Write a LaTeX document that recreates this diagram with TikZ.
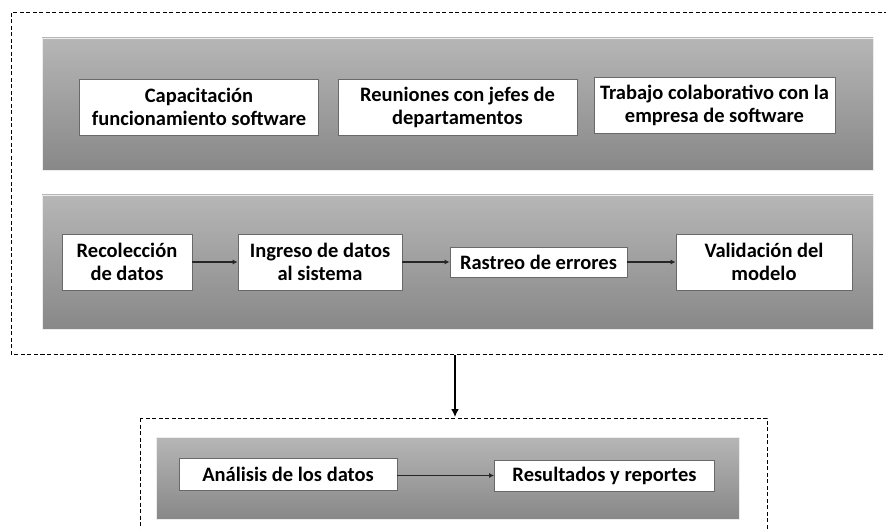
\documentclass[tikz,border=0pt]{standalone}
\usepackage{fontspec}
\setmainfont{Carlito}
\usetikzlibrary{arrows.meta}
\definecolor{pantop}{RGB}{182,182,182}
\definecolor{panbot}{RGB}{136,136,136}
\definecolor{boxedge}{RGB}{105,105,105}
\tikzset{
  panel/.style={draw=white!85!gray, line width=0.6pt, top color=pantop, bottom color=panbot},
  wbox/.style={draw=boxedge, line width=0.8pt, fill=white, align=center, font=\bfseries\fontsize{20.5}{23}\selectfont, inner sep=0pt},
  dashbox/.style={draw=black, dash pattern=on 4pt off 2.5pt, line width=1pt},
  conn/.style={draw=black!85, line width=1.8pt, -{Latex[length=5pt,width=5pt]}},
  bigconn/.style={draw=black, line width=2.2pt, -{Latex[length=8pt,width=8pt]}}
}
\begin{document}
\begin{tikzpicture}[x=1pt,y=-1pt]
\useasboundingbox (0,0) rectangle (886,529);
\clip (0,0) rectangle (886,529);
% outer dashed containers
\draw[dashbox] (11,13) rectangle (895,354);
\draw[dashbox] (140,418) rectangle (767,540);
% panels
\draw[panel] (42,38) rectangle (873,170);
\draw[panel] (42,195) rectangle (873,329);
\draw[panel] (156,437) rectangle (739,519);
% top row
\node[wbox, minimum width=239pt, minimum height=56pt] (cap) at (199,107) {Capacitación\\funcionamiento software};
\node[wbox, minimum width=239pt, minimum height=56pt] (reu) at (457.5,107) {Reuniones con jefes de\\departamentos};
\node[wbox, minimum width=241pt, minimum height=56pt] (tra) at (714.5,105) {Trabajo colaborativo con la\\empresa de software};
% middle row
\node[wbox, minimum width=130pt, minimum height=56pt] (rec) at (127,262) {Recolección\\de datos};
\node[wbox, minimum width=164pt, minimum height=56pt] (ing) at (320,262) {Ingreso de datos\\al sistema};
\node[wbox, minimum width=177pt, minimum height=30pt] (ras) at (538.5,262) {Rastreo de errores};
\node[wbox, minimum width=176pt, minimum height=56pt] (val) at (764,262) {Validación del\\modelo};
\draw[conn] (rec) -- (ing);
\draw[conn] (ing) -- (ras);
\draw[conn] (ras) -- (val);
% bottom row
\node[wbox, minimum width=218pt, minimum height=32pt] (ana) at (288,474) {Análisis de los datos};
\node[wbox, minimum width=220pt, minimum height=31pt] (res) at (604.5,475.5) {Resultados y reportes};
\draw[conn] (ana.east |- res.west) -- (res.west);
% connector between containers
\coordinate (ctop) at (455,355);
\coordinate (cbot) at (455,417);
\draw[bigconn] (ctop) -- (cbot);
\end{tikzpicture}
\end{document}
